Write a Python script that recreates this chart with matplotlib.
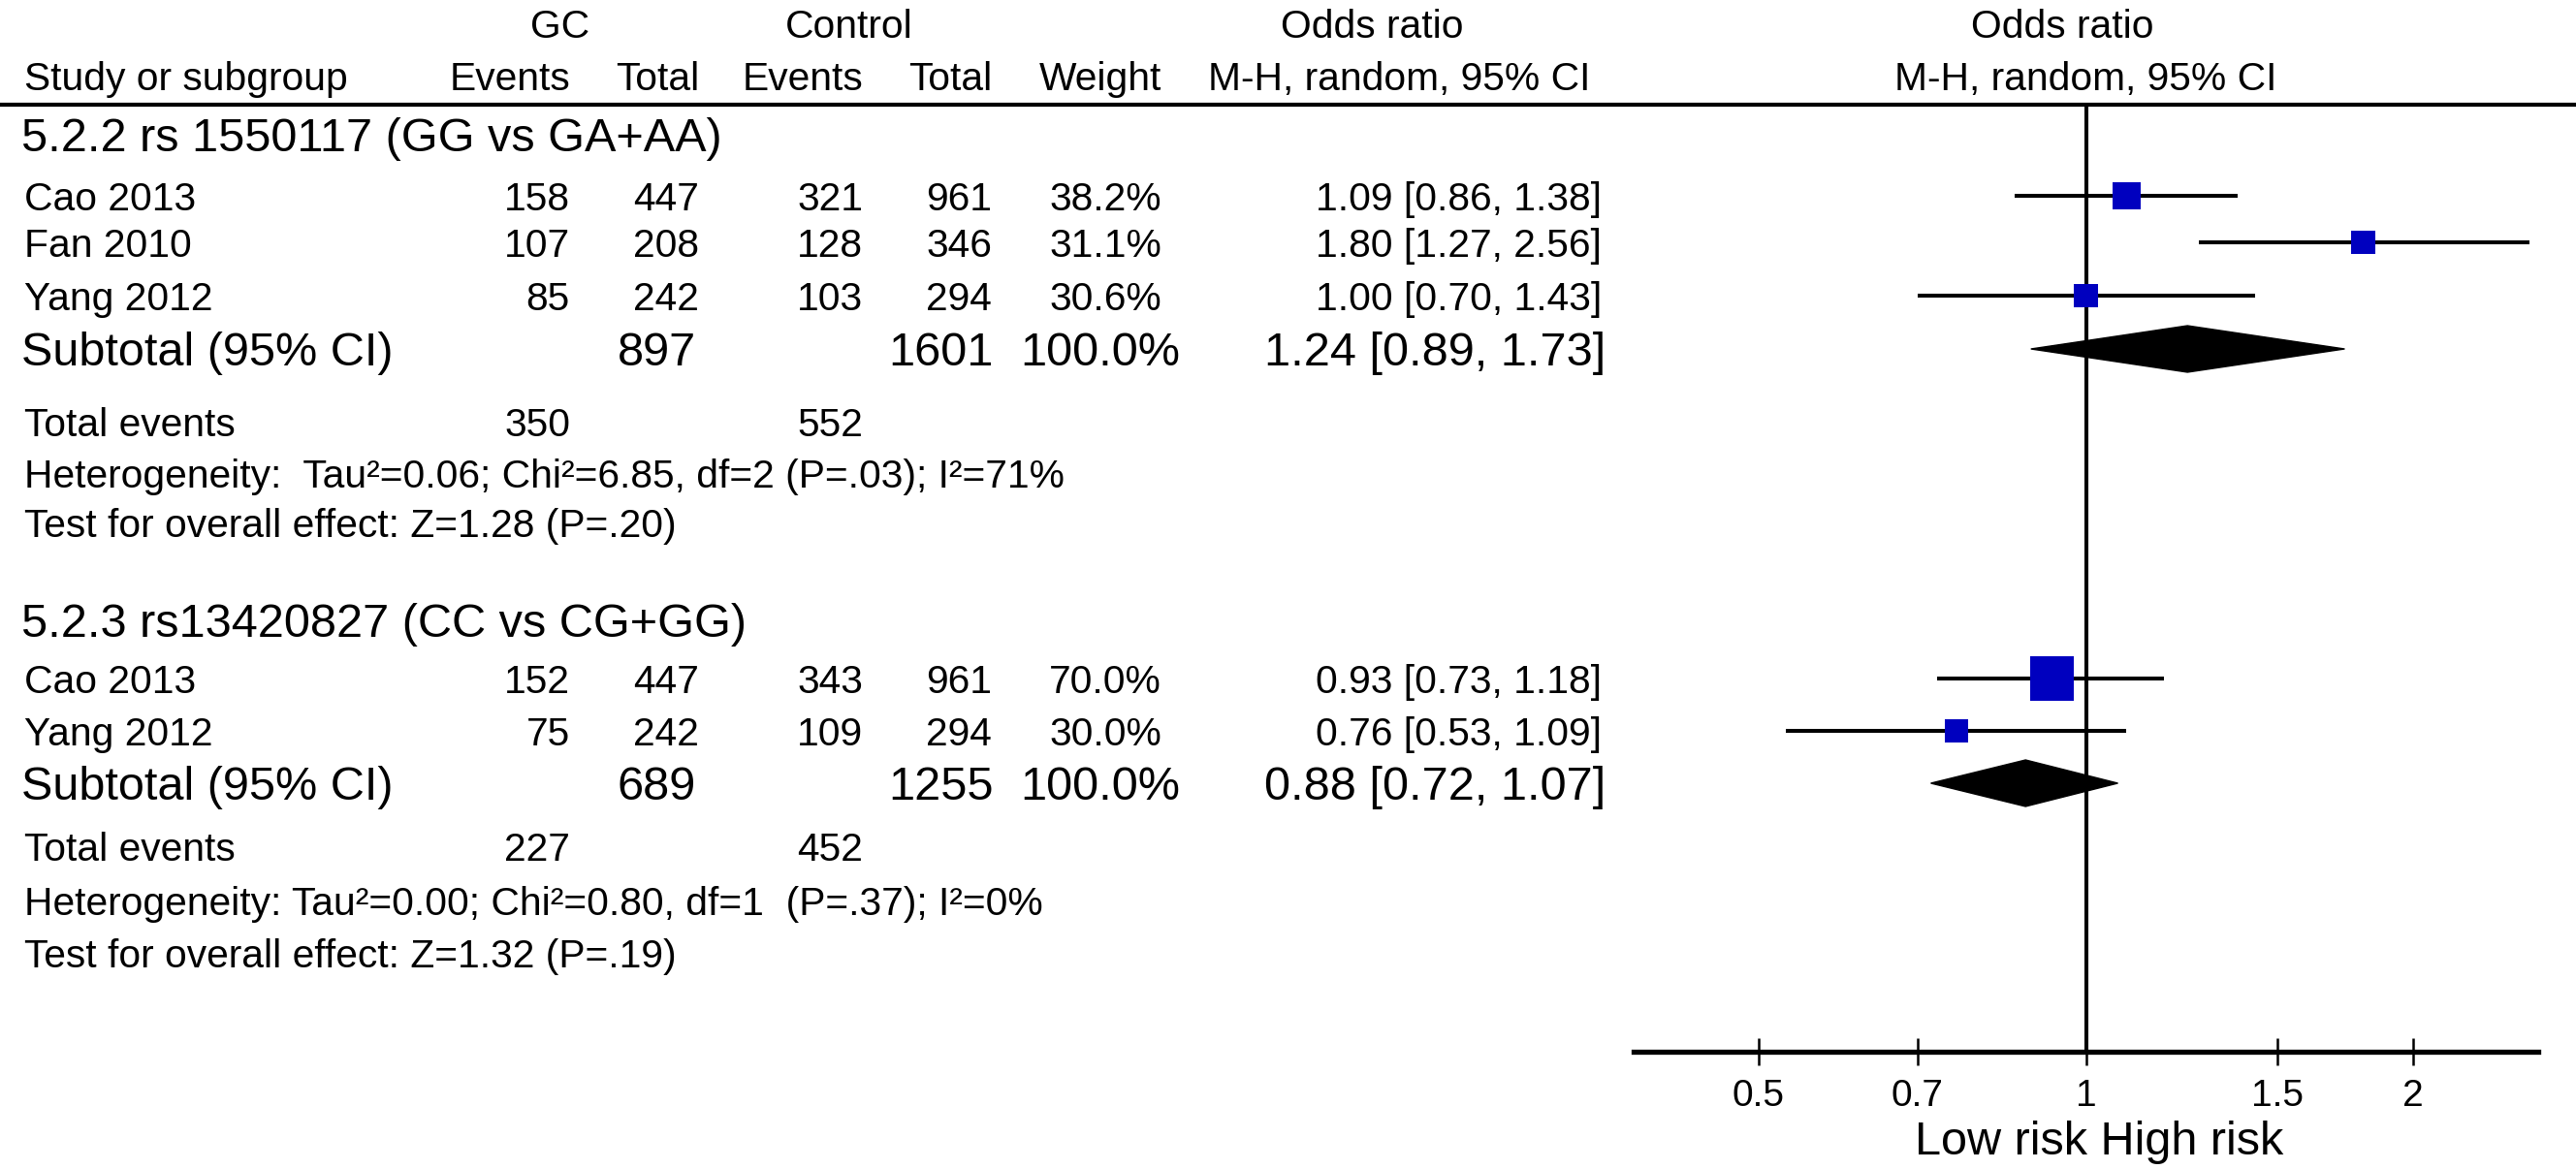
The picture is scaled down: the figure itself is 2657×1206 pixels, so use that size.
import numpy as np
import matplotlib
matplotlib.use('Agg')
import matplotlib.pyplot as plt
from matplotlib.patches import Polygon

plt.rcParams['font.family'] = ['Liberation Sans', 'DejaVu Sans']

# データ
groups = ['5.2.2 rs 1550117 (GG vs GA+AA)', '5.2.3 rs13420827 (CC vs CG+GG)']
studies = [['Cao 2013', 'Fan 2010', 'Yang 2012'], ['Cao 2013', 'Yang 2012']]
gc_events = [[158, 107, 85], [152, 75]]
gc_total = [[447, 208, 242], [447, 242]]
ctrl_events = [[321, 128, 103], [343, 109]]
ctrl_total = [[961, 346, 294], [961, 294]]
weights = [[38.2, 31.1, 30.6], [70.0, 30.0]]
or_est = [[1.09, 1.80, 1.00], [0.93, 0.76]]
or_lo = [[0.86, 1.27, 0.70], [0.73, 0.53]]
or_hi = [[1.38, 2.56, 1.43], [1.18, 1.09]]
sub_gc_total = [897, 689]
sub_ctrl_total = [1601, 1255]
sub_est = [1.24, 0.88]
sub_lo = [0.89, 0.72]
sub_hi = [1.73, 1.07]
tot_gc_events = [350, 227]
tot_ctrl_events = [552, 452]
heterogeneity = ['Heterogeneity:  Tau²=0.06; Chi²=6.85, df=2 (P=.03); I²=71%',
                 'Heterogeneity: Tau²=0.00; Chi²=0.80, df=1  (P=.37); I²=0%']
overall = ['Test for overall effect: Z=1.28 (P=.20)',
           'Test for overall effect: Z=1.32 (P=.19)']
ticks = [0.5, 0.7, 1, 1.5, 2]
tick_labels = ['0.5', '0.7', '1', '1.5', '2']

# レイアウト (ピクセル)
W, H = 2657, 1206
DPI = 100
FS = 29.3     # 通常
FS_BIG = 35   # サブグループ・小計
row_title = [139, 640]
row_study = [[202, 250, 305], [700, 754]]
row_sub = [360, 808]
row_tot = [435, 873]
row_het = [488, 929]
row_test = [539, 983]
x_ge, x_gt, x_ce, x_ct, x_w, x_or = 588, 721, 890, 1023, 1198, 1652
x_sub = [718, 1025, 1217, 1656]
y_line = 108
y_axis = 1085
x_ax0, x_ax1 = 1685, 2618


def cap(fs):
    # 大文字の高さの半分 (px)
    return 0.716 * fs * DPI / 72 / 2


def put(ax, x, y, s, fs=FS, ha='left'):
    ax.text(x, y + cap(fs), s, fontsize=fs, ha=ha, va='baseline')


fig = plt.figure(figsize=(W / DPI, H / DPI), dpi=DPI)
ax0 = fig.add_axes([0, 0, 1, 1])
ax0.set_xlim(0, W)
ax0.set_ylim(H, 0)
ax0.axis('off')

# ヘッダー
put(ax0, 578, 24, 'GC', ha='center')
put(ax0, 876, 24, 'Control', ha='center')
put(ax0, 1415, 24, 'Odds ratio', ha='center')
put(ax0, 2127, 24, 'Odds ratio', ha='center')
put(ax0, 25, 78, 'Study or subgroup')
for x, s in zip([x_ge, x_gt, x_ce, x_ct, x_w], ['Events', 'Total', 'Events', 'Total', 'Weight']):
    put(ax0, x, 78, s, ha='right')
put(ax0, 1443, 78, 'M-H, random, 95% CI', ha='center')
put(ax0, 2151, 78, 'M-H, random, 95% CI', ha='center')
ax0.plot([0, W], [y_line, y_line], color='k', lw=3.0, solid_capstyle='butt')

# 表
for g in range(len(groups)):
    put(ax0, 22, row_title[g], groups[g], fs=FS_BIG)
    for i, name in enumerate(studies[g]):
        y = row_study[g][i]
        put(ax0, 25, y, name)
        put(ax0, x_ge, y, str(gc_events[g][i]), ha='right')
        put(ax0, x_gt, y, str(gc_total[g][i]), ha='right')
        put(ax0, x_ce, y, str(ctrl_events[g][i]), ha='right')
        put(ax0, x_ct, y, str(ctrl_total[g][i]), ha='right')
        put(ax0, x_w, y, f'{weights[g][i]:.1f}%', ha='right')
        put(ax0, x_or, y, f'{or_est[g][i]:.2f} [{or_lo[g][i]:.2f}, {or_hi[g][i]:.2f}]', ha='right')
    y = row_sub[g]
    put(ax0, 22, y, 'Subtotal (95% CI)', fs=FS_BIG)
    put(ax0, x_sub[0], y, str(sub_gc_total[g]), fs=FS_BIG, ha='right')
    put(ax0, x_sub[1], y, str(sub_ctrl_total[g]), fs=FS_BIG, ha='right')
    put(ax0, x_sub[2], y, '100.0%', fs=FS_BIG, ha='right')
    put(ax0, x_sub[3], y, f'{sub_est[g]:.2f} [{sub_lo[g]:.2f}, {sub_hi[g]:.2f}]', fs=FS_BIG, ha='right')
    put(ax0, 25, row_tot[g], 'Total events')
    put(ax0, x_ge, row_tot[g], str(tot_gc_events[g]), ha='right')
    put(ax0, x_ce, row_tot[g], str(tot_ctrl_events[g]), ha='right')
    put(ax0, 25, row_het[g], heterogeneity[g])
    put(ax0, 25, row_test[g], overall[g])

# フォレストプロット
ax1 = fig.add_axes([x_ax0 / W, (H - y_axis) / H, (x_ax1 - x_ax0) / W, (y_axis - y_line) / H])
ax1.patch.set_visible(False)
ax1.set_xscale('log')
ax1.set_xlim(np.exp(-0.958), np.exp(0.958))
ax1.set_ylim(y_axis, y_line)
for sp in ['top', 'left', 'right']:
    ax1.spines[sp].set_visible(False)
ax1.spines['bottom'].set_linewidth(3.8)
ax1.set_xticks(ticks)
ax1.set_xticklabels(tick_labels)
ax1.xaxis.set_minor_locator(matplotlib.ticker.NullLocator())
ax1.tick_params(axis='x', direction='inout', length=20, width=1.8, labelsize=28, pad=10)
ax1.set_yticks([])
ax1.axvline(1, color='k', lw=2.9, zorder=1)

for g in range(len(groups)):
    ys = row_study[g]
    ax1.hlines(ys, or_lo[g], or_hi[g], color='k', lw=2.9, zorder=2)
    side = 24 * (np.array(weights[g]) / 30) ** 0.742 * 72 / DPI
    ax1.scatter(or_est[g], ys, marker='s', s=side ** 2, color='#0000bf', linewidths=0, zorder=3)
    y = row_sub[g]
    d = Polygon([[sub_lo[g], y], [sub_est[g], y - 24], [sub_hi[g], y], [sub_est[g], y + 24]],
                closed=True, fc='k', ec='k', lw=1, zorder=3)
    ax1.add_patch(d)

put(ax0, 2165, 1174, 'Low risk High risk', fs=35, ha='center')

fig.savefig('out.png', dpi=DPI)
